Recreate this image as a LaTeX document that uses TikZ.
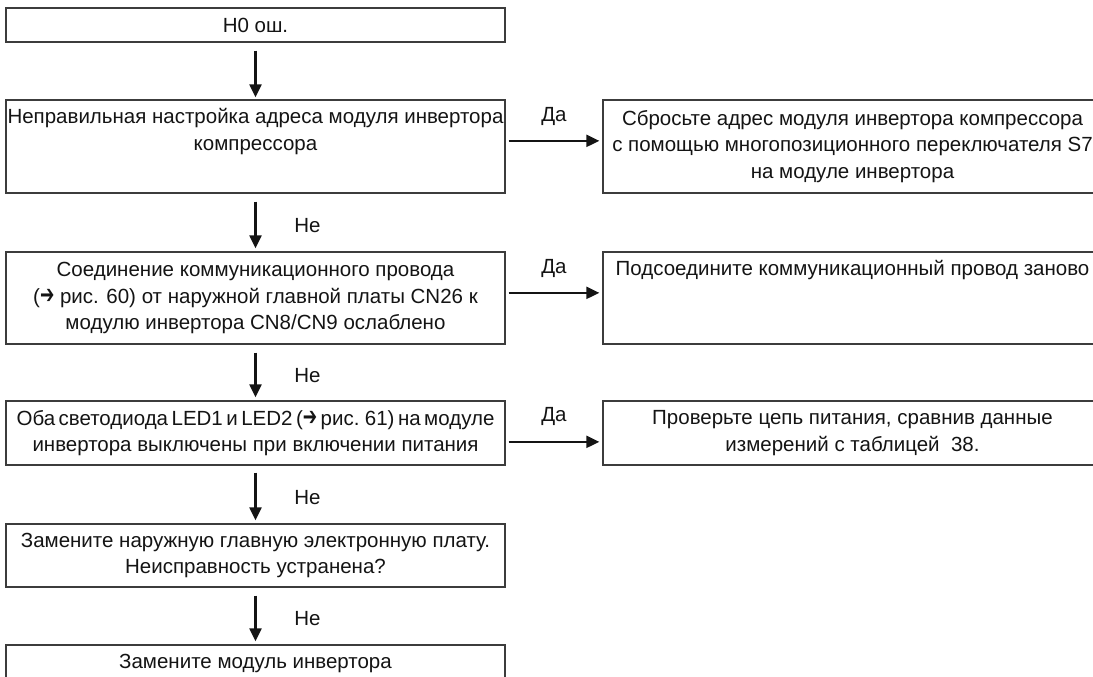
\documentclass[tikz,border=0pt]{standalone}
\usepackage{fontspec}
\usepackage{graphicx}
\setmainfont{Liberation Sans}
\newfontfamily\arrowfont{DejaVu Sans}
\newcommand{\rarr}{\scalebox{0.9}[1.35]{\arrowfont\fontsize{19}{20}\selectfont ➔}}
\usetikzlibrary{arrows.meta}
\definecolor{edgegray}{HTML}{3C3C3C}
\definecolor{inkblack}{HTML}{141414}
\tikzset{
  box/.style={draw=edgegray, line width=1.3pt, inner sep=0pt, minimum width=499pt,
    align=center, text=inkblack, font=\fontsize{20.5}{26.5}\selectfont},
  arr/.style={draw=inkblack, line width=2.2pt, -{Triangle[length=13pt,width=12pt]}},
  lbl/.style={text=inkblack, font=\fontsize{20.5}{24}\selectfont, inner sep=0pt}
}
\begin{document}
\begin{tikzpicture}[x=1pt,y=-1pt]
\clip (0,0) rectangle (1093,677);
\fill[white] (0,0) rectangle (1093,677);
% left column
\node[box, minimum height=34pt] (b1) at (255.5,25) {H0 ош.};
\node[box, minimum height=93pt] (b2) at (255.5,146.5)
  {Неправильная настройка адреса модуля инвертора\\компрессора\\\strut};
\node[box, minimum height=92pt] (b3) at (255.5,298)
  {Соединение коммуникационного провода\\(\rarr\ рис. 60) от наружной главной платы CN26 к\\модулю инвертора CN8/CN9 ослаблено};
\node[box, minimum height=64pt] (b4) at (255.5,433)
  {{\spaceskip=0.17em plus 0.05em minus 0.05em Оба светодиода LED1 и LED2 (\rarr\ рис. 61) на модуле}\\инвертора выключены при включении питания};
\node[box, minimum height=63pt] (b5) at (255.5,555.5)
  {Замените наружную главную электронную плату.\\Неисправность устранена?};
\node[box, minimum height=36pt] (b6) at (255.5,663) {Замените модуль инвертора};
% right column
\node[box, minimum height=93pt] (r1) at (852.5,146.5)
  {Сбросьте адрес модуля инвертора компрессора\\с помощью многопозиционного переключателя S7\\на модуле инвертора};
\node[box, minimum height=92pt] (r2) at (852.5,298)
  {Подсоедините коммуникационный провод заново\\\strut\\\strut};
\node[box, minimum height=64pt] (r3) at (852.5,433)
  {Проверьте цепь питания, сравнив данные\\измерений с таблицей\ \ 38.};
% vertical arrows
\draw[arr, shorten <=8pt, shorten >=2pt] (b1.south) -- (b2.north);
\draw[arr, shorten <=8pt, shorten >=3pt] (b2.south) -- node[lbl, pos=0.55, xshift=52pt] (no1) {Не} (b3.north);
\draw[arr, shorten <=8pt, shorten >=3pt] (b3.south) -- node[lbl, pos=0.55, xshift=52pt] (no2) {Не} (b4.north);
\draw[arr, shorten <=7pt, shorten >=3pt] (b4.south) -- node[lbl, pos=0.55, xshift=52pt] (no3) {Не} (b5.north);
\draw[arr, shorten <=8pt, shorten >=3pt] (b5.south) -- node[lbl, pos=0.55, xshift=52pt] (no4) {Не} (b6.north);
% horizontal arrows
\draw[arr, shorten <=3pt, shorten >=3pt] ([yshift=-41.5pt]b2.north east) -- node[lbl, midway, yshift=24pt] (yes1) {Да} ([yshift=-41.5pt]r1.north west);
\draw[arr, shorten <=3pt, shorten >=3pt] ([yshift=-41.5pt]b3.north east) -- node[lbl, midway, yshift=24pt] (yes2) {Да} ([yshift=-41.5pt]r2.north west);
\draw[arr, shorten <=3pt, shorten >=3pt] ([yshift=-41.5pt]b4.north east) -- node[lbl, midway, yshift=25pt] (yes3) {Да} ([yshift=-41.5pt]r3.north west);
\end{tikzpicture}
\end{document}
